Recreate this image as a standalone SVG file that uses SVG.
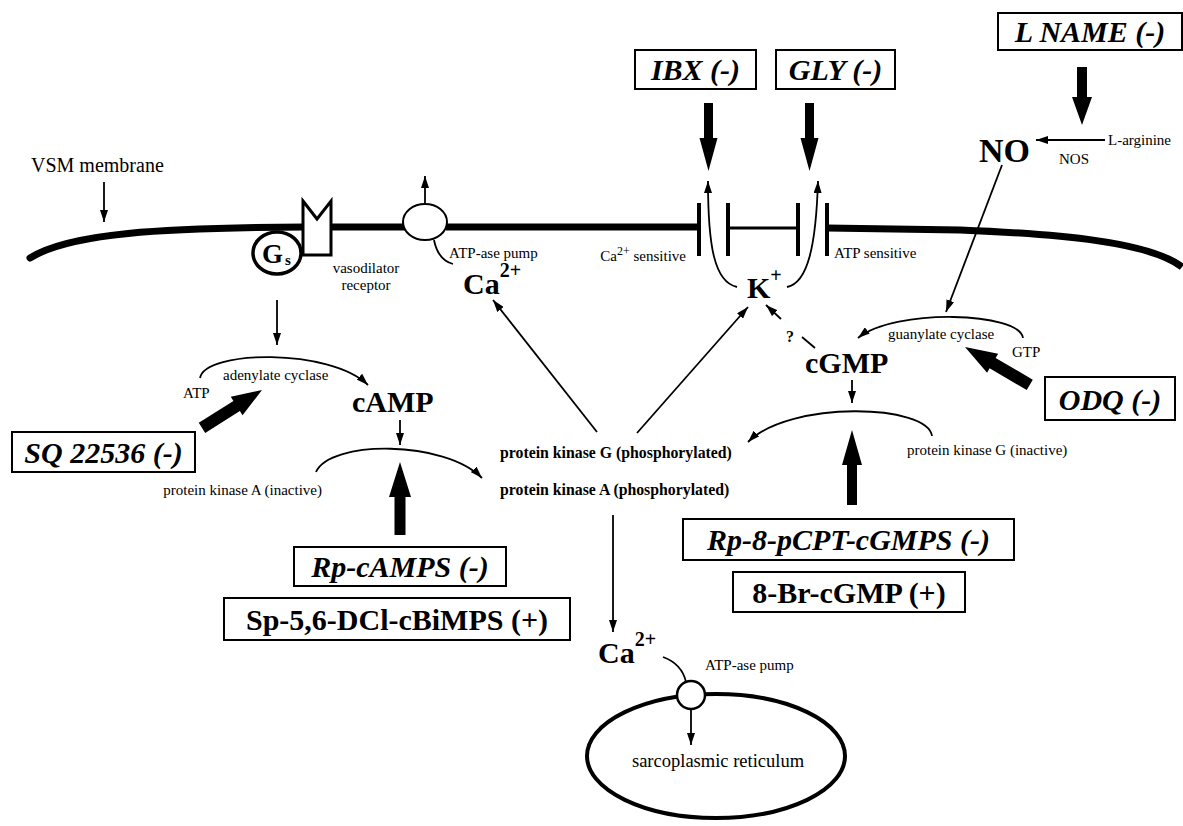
<svg xmlns="http://www.w3.org/2000/svg" width="1183" height="826" viewBox="0 0 1183 826">
<defs>
<marker id="ah" markerUnits="userSpaceOnUse" markerWidth="13" markerHeight="8" refX="12" refY="4" orient="auto">
<path d="M0,0 L12,4 L0,8 Z" fill="#000"/>
</marker>
<style>
text{font-family:"Liberation Serif","Times New Roman",serif;fill:#000}
.sm{font-size:15px}
.bsm{font-size:15.8px;font-weight:bold}
.big{font-size:30px;font-weight:bold}
.box{fill:#fff;stroke:#000;stroke-width:2}
.lbl{font-size:30px;font-weight:bold;font-style:italic}
.lblb{font-size:30px;font-weight:bold}
.ln{fill:none;stroke:#000;stroke-width:1.8}
.arr{fill:none;stroke:#000;stroke-width:1.8;marker-end:url(#ah)}
.thick{fill:#000}
.mem{fill:none;stroke:#000;stroke-width:7}
</style>
</defs>
<rect width="1183" height="826" fill="#fff"/>

<g id="membrane">
<path class="mem" d="M30 258 C70 233, 160 228, 305 227" stroke-linecap="round"/>
<path class="mem" d="M330 227 L405 227"/>
<path class="mem" d="M446 227 L699 227"/>
<path class="mem" d="M827 228 L960 230 C1060 234, 1150 242, 1182 267"/>
<line x1="728" y1="228" x2="798" y2="228" stroke="#000" stroke-width="3"/>
<line x1="699" y1="203" x2="699" y2="256" stroke="#000" stroke-width="4"/>
<line x1="728" y1="203" x2="728" y2="256" stroke="#000" stroke-width="4"/>
<line x1="798" y1="203" x2="798" y2="256" stroke="#000" stroke-width="4"/>
<line x1="827" y1="203" x2="827" y2="256" stroke="#000" stroke-width="4"/>
<text x="31" y="172" style="font-size:20px">VSM membrane</text>
<text x="686" y="261" class="sm" text-anchor="end">Ca<tspan dy="-6" style="font-size:12px">2+</tspan><tspan dy="6"> sensitive</tspan></text>
<text x="834" y="258" class="sm">ATP sensitive</text>
</g>

<g id="receptor">
<path d="M303 201 L317 219 L331 201 L331 255 L303 255 Z" fill="#fff" stroke="#000" stroke-width="3"/>
<text x="366" y="273" class="sm" text-anchor="middle">vasodilator</text>
<text x="366" y="290" class="sm" text-anchor="middle">receptor</text>
</g>

<g id="gs">
<ellipse cx="277" cy="253" rx="24" ry="21" fill="#fff" stroke="#000" stroke-width="3.5"/>
<text x="262" y="263" style="font-size:27px;font-weight:bold">G</text>
<text x="285" y="265" style="font-size:15px;font-weight:bold">s</text>
</g>

<g id="pump-top">
<ellipse cx="425" cy="222" rx="22" ry="18" fill="#fff" stroke="#000" stroke-width="2"/>
<text x="449" y="258" class="sm">ATP-ase pump</text>
</g>

<g id="ca-top">
<text x="463" y="294" class="big">Ca<tspan dy="-17" style="font-size:20px">2+</tspan></text>
</g>

<g id="k">
<text x="747" y="298" class="big">K<tspan dy="-16" style="font-size:20px">+</tspan></text>
</g>

<g id="ibx">
<rect x="635" y="50" width="121" height="39" class="box"/>
<text x="695.5" y="80" class="lbl" text-anchor="middle">IBX (-)</text>
</g>

<g id="gly">
<rect x="776" y="50" width="119" height="39" class="box"/>
<text x="835.5" y="80" class="lbl" text-anchor="middle">GLY (-)</text>
</g>

<g id="lname">
<rect x="998" y="13" width="184" height="37" class="box"/>
<text x="1090" y="42" class="lbl" text-anchor="middle">L NAME (-)</text>
</g>

<g id="no">
<text x="979" y="162" style="font-size:34px;font-weight:bold">NO</text>
<text x="1108" y="145" class="sm">L-arginine</text>
<text x="1059" y="164" class="sm">NOS</text>
</g>

<g id="cgmp">
<text x="805" y="373" class="big">cGMP</text>
<text x="790" y="342" style="font-size:16px;font-weight:bold" text-anchor="middle">?</text>
<text x="888" y="339" class="sm">guanylate cyclase</text>
<text x="1012" y="357" class="sm">GTP</text>
</g>

<g id="odq">
<rect x="1045" y="377" width="130" height="43" class="box"/>
<text x="1110" y="410" class="lbl" text-anchor="middle">ODQ (-)</text>
</g>

<g id="camp">
<text x="352" y="412" class="big">cAMP</text>
<text x="223" y="380" class="sm">adenylate cyclase</text>
<text x="183" y="398" class="sm">ATP</text>
</g>

<g id="sq">
<rect x="12" y="432" width="183" height="40" class="box"/>
<text x="103.5" y="463" class="lbl" text-anchor="middle">SQ 22536 (-)</text>
</g>

<g id="pk">
<text x="322" y="495" class="sm" text-anchor="end">protein kinase A (inactive)</text>
<text x="500" y="458" class="bsm">protein kinase G (phosphorylated)</text>
<text x="500" y="495" class="bsm">protein kinase A (phosphorylated)</text>
<text x="907" y="455" class="sm">protein kinase G (inactive)</text>
</g>

<g id="rpcamps">
<rect x="294" y="547" width="212" height="39" class="box"/>
<text x="400" y="577" class="lbl" text-anchor="middle">Rp-cAMPS (-)</text>
</g>

<g id="spdcl">
<rect x="224" y="598" width="346" height="42" class="box"/>
<text x="397" y="630" class="lblb" text-anchor="middle">Sp-5,6-DCl-cBiMPS (+)</text>
</g>

<g id="rp8">
<rect x="683" y="519" width="331" height="41" class="box"/>
<text x="848.5" y="550" class="lbl" text-anchor="middle">Rp-8-pCPT-cGMPS (-)</text>
</g>

<g id="br8">
<rect x="733" y="572" width="232" height="40" class="box"/>
<text x="849" y="603" class="lblb" text-anchor="middle">8-Br-cGMP (+)</text>
</g>

<g id="ca-bottom">
<text x="598" y="663" class="big">Ca<tspan dy="-17" style="font-size:20px">2+</tspan></text>
</g>

<g id="sr">
<ellipse cx="716" cy="756" rx="129" ry="62" fill="none" stroke="#000" stroke-width="4"/>
<circle cx="691" cy="695" r="14" fill="#fff" stroke="#000" stroke-width="2.5"/>
<text x="705" y="670" class="sm">ATP-ase pump</text>
<text x="718" y="767" style="font-size:18.5px" text-anchor="middle">sarcoplasmic reticulum</text>
</g>

<g id="connectors">
<line class="arr" x1="104" y1="182" x2="104" y2="222"/>
<line class="arr" x1="425" y1="204" x2="425" y2="176"/>
<path class="ln" d="M434 240 Q438 260 453 264"/>
<line class="arr" x1="277" y1="300" x2="277" y2="345"/>
<path class="arr" d="M200 378 C205 350, 330 348, 368 385"/>
<line class="arr" x1="400" y1="420" x2="400" y2="445"/>
<path class="arr" d="M316 472 C330 440, 445 440, 482 478"/>
<line class="arr" x1="597" y1="432" x2="493" y2="300"/>
<line class="arr" x1="637" y1="433" x2="748" y2="307"/>
<path class="arr" d="M737 287 C714 282, 708 245, 708 181"/>
<path class="arr" d="M787 287 C808 283, 816 245, 818 181"/>
<line class="ln" x1="815" y1="348" x2="802" y2="337"/>
<line class="arr" x1="781" y1="319" x2="766" y2="305"/>
<line class="arr" x1="1105" y1="140" x2="1036" y2="140"/>
<line class="arr" x1="1002" y1="165" x2="946" y2="312"/>
<path class="arr" d="M1023 338 C1020 312, 895 308, 858 338"/>
<line class="arr" x1="852" y1="380" x2="852" y2="403"/>
<path class="arr" d="M932 436 C928 404, 790 400, 748 442"/>
<line class="arr" x1="613" y1="515" x2="613" y2="632"/>
<path class="ln" d="M663 657 Q682 664 686 682"/>
<line class="arr" x1="691" y1="709" x2="691" y2="745"/>
<path class="thick" transform="translate(708.5,171) rotate(90)" d="M0,0 L-33,-9 L-33,-4.5 L-68,-4.5 L-68,4.5 L-33,4.5 L-33,9 Z"/>
<path class="thick" transform="translate(809.5,171) rotate(90)" d="M0,0 L-33,-9 L-33,-4.5 L-68,-4.5 L-68,4.5 L-33,4.5 L-33,9 Z"/>
<path class="thick" transform="translate(1082,125) rotate(90)" d="M0,0 L-28,-10 L-28,-5 L-58,-5 L-58,5 L-28,5 L-28,10 Z"/>
<path class="thick" transform="translate(262,390) rotate(-32.3)" d="M0,0 L-30,-11 L-30,-6 L-71,-6 L-71,6 L-30,6 L-30,11 Z"/>
<path class="thick" transform="translate(965,347) rotate(-149.7)" d="M0,0 L-32,-11 L-32,-6 L-75,-6 L-75,6 L-32,6 L-32,11 Z"/>
<path class="thick" transform="translate(400,462) rotate(-90)" d="M0,0 L-35,-11 L-35,-5.5 L-73,-5.5 L-73,5.5 L-35,5.5 L-35,11 Z"/>
<path class="thick" transform="translate(852,430) rotate(-90)" d="M0,0 L-35,-10 L-35,-5 L-75,-5 L-75,5 L-35,5 L-35,10 Z"/>
</g>
</svg>
